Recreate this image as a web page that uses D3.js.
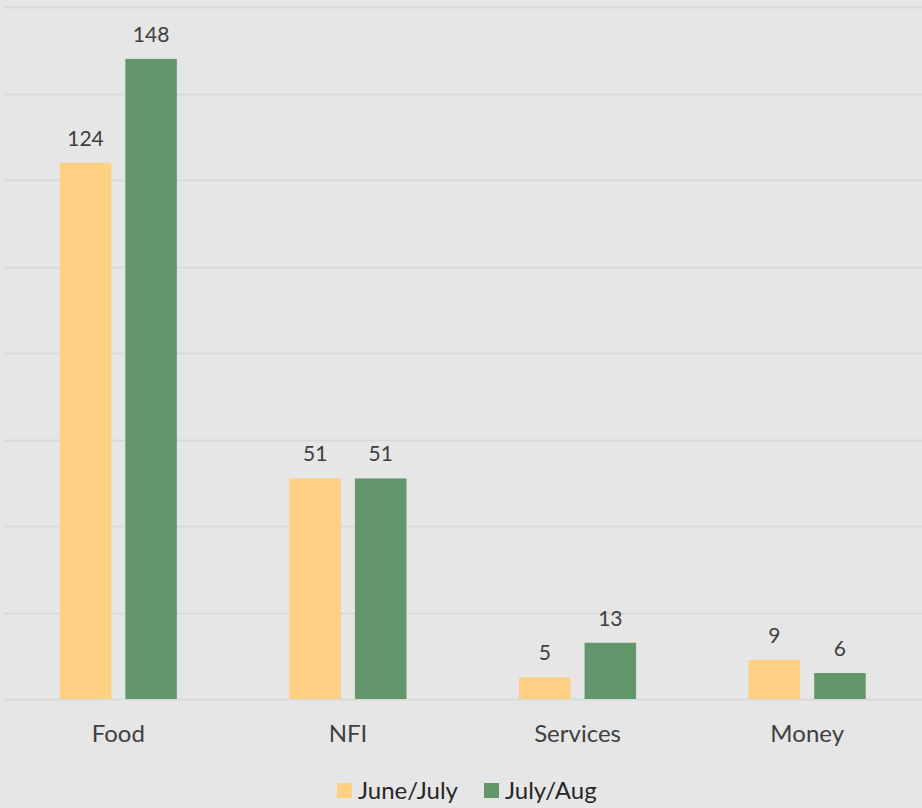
<!DOCTYPE html>
<html>
<head>
<meta charset="utf-8">
<script src="https://cdn.jsdelivr.net/npm/d3@7"></script>
<style>
  html, body { margin: 0; padding: 0; background: #e6e6e6; }
  svg { display: block; font-family: Lato, "Open Sans", sans-serif; }
</style>
</head>
<body>
<svg id="chart" width="922" height="808"></svg>
<script>
const categories = ["Food", "NFI", "Services", "Money"];
const seriesNames = ["June/July", "July/Aug"];
const juneJuly = [124, 51, 5, 9];
const julyAug = [148, 51, 13, 6];
const seriesColors = ["#fdd083", "#63976b"];
const gridTicks = [0, 20, 40, 60, 80, 100, 120, 140, 160];

const width = 922, height = 808;
const margin = { top: 7, right: 0, bottom: 109, left: 3.5 };
const svg = d3.select("#chart");

svg.append("rect").attr("width", width).attr("height", height).attr("fill", "#e6e6e6");

const x = d3.scaleBand()
  .domain(categories)
  .range([margin.left, width - margin.right])
  .paddingInner(0.49)
  .paddingOuter(0.245);

const y = d3.scaleLinear()
  .domain([0, 160])
  .range([height - margin.bottom, margin.top]);

const sub = d3.scaleBand()
  .domain(seriesNames)
  .range([0, x.bandwidth()])
  .paddingInner(0.214);

// Horizontal grid lines
svg.append("g")
  .selectAll("line")
  .data(gridTicks)
  .join("line")
  .attr("x1", margin.left)
  .attr("x2", width)
  .attr("y1", d => Math.round(y(d)) + 0.5)
  .attr("y2", d => Math.round(y(d)) + 0.5)
  .attr("stroke", "#d9d9d9")
  .attr("stroke-width", 2);

const rows = categories.map((c, i) => ({
  category: c,
  values: [juneJuly[i], julyAug[i]]
}));

const groups = svg.append("g")
  .selectAll("g")
  .data(rows)
  .join("g")
  .attr("transform", d => `translate(${x(d.category)},0)`);

groups.selectAll("rect")
  .data(d => d.values.map((v, j) => ({ v, j })))
  .join("rect")
  .attr("x", d => sub(seriesNames[d.j]))
  .attr("width", sub.bandwidth())
  .attr("y", d => y(d.v))
  .attr("height", d => y(0) - y(d.v))
  .attr("fill", d => seriesColors[d.j]);

groups.selectAll("text.value")
  .data(d => d.values.map((v, j) => ({ v, j })))
  .join("text")
  .attr("class", "value")
  .attr("x", d => sub(seriesNames[d.j]) + sub.bandwidth() / 2)
  .attr("y", d => y(d.v) - 17)
  .attr("text-anchor", "middle")
  .attr("font-size", 21)
  .attr("fill", "#404040")
  .text(d => d.v);

// Category axis labels
const xAxis = svg.append("g")
  .attr("transform", `translate(0,${y(0)})`)
  .call(d3.axisBottom(x).tickSize(0).tickPadding(26));
xAxis.select(".domain").remove();
xAxis.selectAll("text")
  .attr("font-size", 24)
  .attr("font-family", "Lato, 'Open Sans', sans-serif")
  .attr("fill", "#404040");

// Legend
const legendItems = [
  { name: seriesNames[0], color: seriesColors[0], x: 337 },
  { name: seriesNames[1], color: seriesColors[1], x: 484 }
];
const legend = svg.append("g");
const li = legend.selectAll("g").data(legendItems).join("g")
  .attr("transform", d => `translate(${d.x},783)`);
li.append("rect").attr("width", 15).attr("height", 15).attr("fill", d => d.color);
li.append("text")
  .attr("x", 21)
  .attr("y", 16)
  .attr("font-size", 24)
  .attr("fill", "#262626")
  .text(d => d.name);
</script>
</body>
</html>
